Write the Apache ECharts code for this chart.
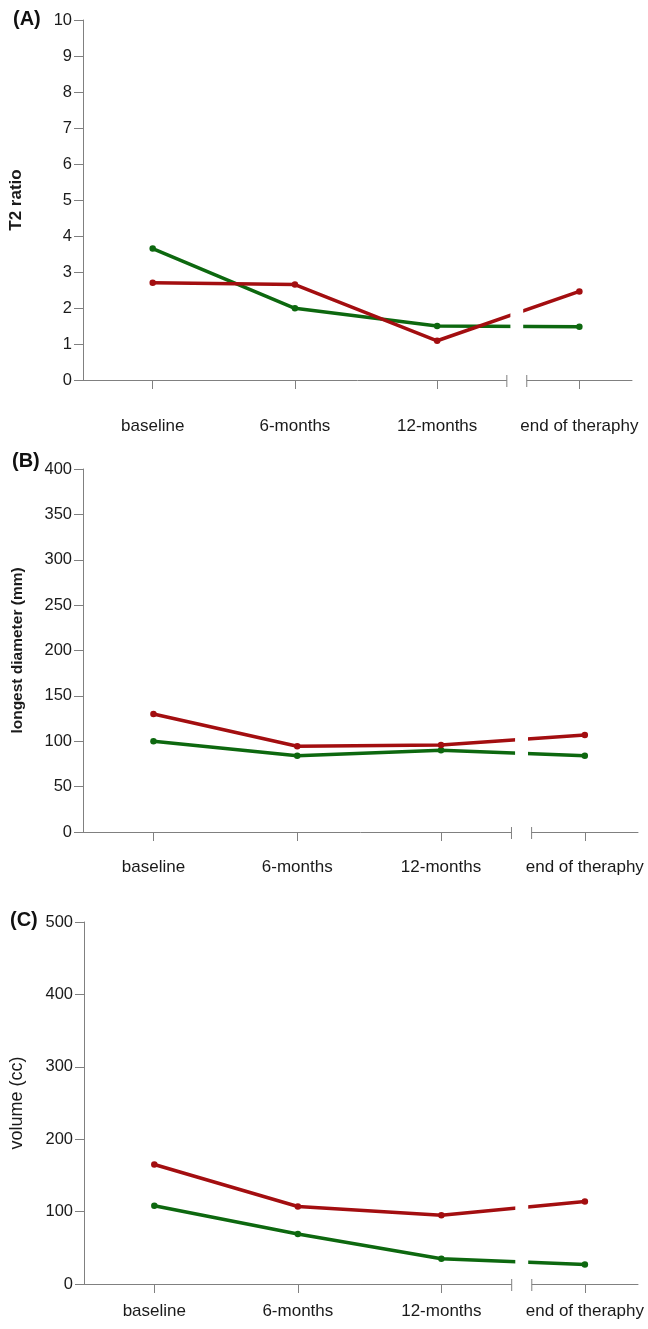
<!DOCTYPE html>
<html>
<head>
<meta charset="utf-8">
<script src="https://cdn.jsdelivr.net/npm/echarts@6/dist/echarts.min.js"></script>
<style>
html,body{margin:0;padding:0;background:#fff;}
#chart{width:648px;height:1329px;}
</style>
</head>
<body>
<div id="chart"></div>
<script>
// ---- data ----
const categories = ['baseline', '6-months', '12-months', 'end of theraphy'];
const panelLabels = ['(A)', '(B)', '(C)'];
const yTitles = ['T2 ratio', 'longest diameter (mm)', 'volume (cc)'];

const t2Green = [3.65, 1.99, 1.50, 1.48];
const t2Red = [2.70, 2.65, 1.09, 2.46];

const diamGreen = [100, 84, 90, 84];
const diamRed = [130, 94.5, 96, 107];

const volGreen = [108, 69, 35, 27];
const volRed = [165, 107, 95, 114];

const yMax = [10, 400, 500];
const yInterval = [1, 50, 100];

// axis break (in category-index units)
const axisBreak = [2.49, 2.63];
const lineGap = [2.515, 2.605];

const RED = '#a30e10';
const GREEN = '#0d680f';
const AXIS = '#808080';
const FONT = '"Liberation Sans", Arial, sans-serif';

const greens = [t2Green, diamGreen, volGreen];
const reds = [t2Red, diamRed, volRed];

const grids = [
  {left: 82, top: 20, width: 550, height: 360},
  {left: 83, top: 469, width: 555, height: 363},
  {left: 83, top: 922, width: 555, height: 362}
];
const labelMargins = [38, 27, 19];
const titleStyle = [
  {fontWeight: 'bold', fontSize: 17, gap: 58},
  {fontWeight: 'bold', fontSize: 15.5, gap: 57},
  {fontWeight: 'normal', fontSize: 18, gap: 58}
];
const panelLabelPos = [[13, 9], [12, 451], [10, 910]];

const idx = categories.map((c, i) => i);
const toPairs = arr => arr.map((v, i) => [i, v]);

function breakRender(params, api) {
  const cs = params.coordSys;
  const y0 = api.coord([0, 0])[1];
  const gx1 = api.coord([lineGap[0], 0])[0];
  const gx2 = api.coord([lineGap[1], 0])[0];
  const bx1 = api.coord([axisBreak[0], 0])[0];
  const bx2 = api.coord([axisBreak[1], 0])[0];
  return {
    type: 'group',
    children: [
      {type: 'rect', shape: {x: gx1, y: cs.y, width: gx2 - gx1, height: y0 - cs.y - 2}, style: {fill: '#fff'}},
      {type: 'rect', shape: {x: bx1, y: y0 - 2, width: bx2 - bx1, height: 4}, style: {fill: '#fff'}},
      {type: 'line', shape: {x1: bx1, y1: y0 - 5, x2: bx1, y2: y0 + 7}, style: {stroke: AXIS, lineWidth: 1}},
      {type: 'line', shape: {x1: bx2, y1: y0 - 5, x2: bx2, y2: y0 + 7}, style: {stroke: AXIS, lineWidth: 1}}
    ]
  };
}

const option = {
  animation: false,
  backgroundColor: '#fff',
  textStyle: {fontFamily: FONT},
  grid: grids.map(g => Object.assign({containLabel: false}, g)),
  xAxis: grids.map((g, i) => ({
    type: 'value',
    gridIndex: i,
    min: -0.49,
    max: 3.37,
    splitLine: {show: false},
    axisLine: {show: true, onZero: false, lineStyle: {color: AXIS, width: 1}},
    axisTick: {show: true, customValues: idx, length: 9, lineStyle: {color: AXIS}},
    axisLabel: {
      customValues: idx,
      margin: labelMargins[i],
      color: '#1a1a1a',
      fontSize: 17,
      fontFamily: FONT,
      formatter: v => categories[Math.round(v)]
    }
  })),
  yAxis: grids.map((g, i) => ({
    type: 'value',
    gridIndex: i,
    min: 0,
    max: yMax[i],
    interval: yInterval[i],
    name: yTitles[i],
    nameLocation: 'middle',
    nameGap: titleStyle[i].gap,
    nameRotate: 90,
    nameTextStyle: {
      fontSize: titleStyle[i].fontSize,
      fontWeight: titleStyle[i].fontWeight,
      color: '#1a1a1a',
      fontFamily: FONT
    },
    splitLine: {show: false},
    axisLine: {show: true, onZero: false, lineStyle: {color: AXIS, width: 1}},
    axisTick: {show: true, length: 9, lineStyle: {color: AXIS}},
    axisLabel: {margin: 11, color: '#1a1a1a', fontSize: 16.5, fontFamily: FONT, showMaxLabel: true, showMinLabel: true}
  })),
  graphic: panelLabels.map((t, i) => ({
    type: 'text',
    left: panelLabelPos[i][0],
    top: panelLabelPos[i][1],
    style: {text: t, fontSize: 20, fontWeight: 'bold', fill: '#111', fontFamily: FONT}
  })),
  series: []
};

grids.forEach((g, i) => {
  option.series.push({
    type: 'line', xAxisIndex: i, yAxisIndex: i,
    data: toPairs(greens[i]),
    symbol: 'circle', symbolSize: 6.5,
    lineStyle: {color: GREEN, width: 3.5},
    itemStyle: {color: GREEN},
    z: 3
  });
  option.series.push({
    type: 'line', xAxisIndex: i, yAxisIndex: i,
    data: toPairs(reds[i]),
    symbol: 'circle', symbolSize: 6.5,
    lineStyle: {color: RED, width: 3.5},
    itemStyle: {color: RED},
    z: 4
  });
  option.series.push({
    type: 'custom', xAxisIndex: i, yAxisIndex: i,
    coordinateSystem: 'cartesian2d',
    data: [[lineGap[0], 0]],
    renderItem: breakRender,
    clip: false,
    silent: true,
    z: 10
  });
});

const chart = echarts.init(document.getElementById('chart'), null, {renderer: 'canvas'});
chart.setOption(option);
</script>
</body>
</html>
